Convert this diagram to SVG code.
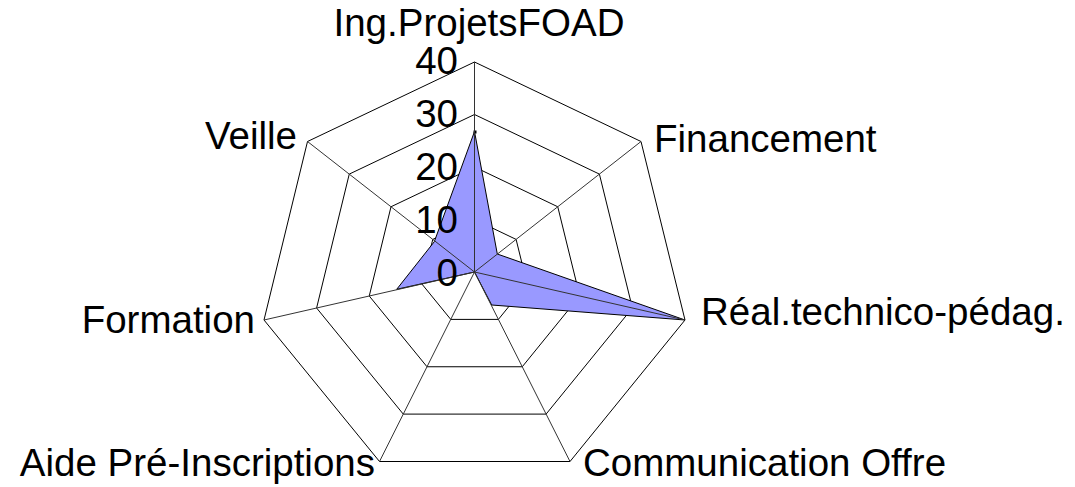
<svg xmlns="http://www.w3.org/2000/svg" width="1075" height="487" viewBox="0 0 1075 487">
  <style>
    .ring { fill: none; stroke: #000; stroke-width: 1; }
    .spoke { stroke: #333; stroke-width: 1; fill: none; }
    .series { fill: #9999ff; stroke: #000; stroke-width: 1; stroke-linejoin: miter; }
    text { font-family: "Liberation Sans", Arial, sans-serif; font-size: 38.5px; fill: #000; }
    .tick { text-anchor: end; }
  </style>
  <rect width="1075" height="487" fill="#fff"/>
  <g id="grid">
    <polygon class="ring" points="474.5,219.5 516.1,239.4 527.1,284 498.4,319.4 450.75,319.4 421.9,284 432.75,239.4"/>
    <polygon class="ring" points="474.5,167 557.75,206.75 579.75,296 522.25,366.75 427,366.75 369.25,296 391,206.75"/>
    <polygon class="ring" points="474.5,114.5 599.4,174.1 632.4,308 546.1,414.1 403.25,414.1 316.6,308 349.25,174.1"/>
    <polygon class="ring" points="474.5,62 641,141.5 685,320 570,461.5 379.5,461.5 264,320 307.5,141.5"/>
  </g>
  <g id="series-data">
    <polygon class="series" points="474.5,131.5 497.3,254 685,320 491.7,305 474.5,272 396.7,289.3 434.3,241.7"/>
    <rect x="473.5" y="130.5" width="3" height="3" fill="#000"/>
  </g>
  <g id="connectors">
    <line class="spoke" x1="474.5" y1="272" x2="474.5" y2="62"/>
    <line class="spoke" x1="474.5" y1="272" x2="641" y2="141.5"/>
    <line class="spoke" x1="474.5" y1="272" x2="685" y2="320"/>
    <line class="spoke" x1="474.5" y1="272" x2="570" y2="461.5"/>
    <line class="spoke" x1="474.5" y1="272" x2="379.5" y2="461.5"/>
    <line class="spoke" x1="474.5" y1="272" x2="264" y2="320"/>
    <line class="spoke" x1="474.5" y1="272" x2="307.5" y2="141.5"/>
  </g>
  <g id="scale">
    <text class="tick" x="458" y="73.5">40</text>
    <text class="tick" x="458" y="126.5">30</text>
    <text class="tick" x="458" y="179.5">20</text>
    <text class="tick" x="458" y="232.5">10</text>
    <text class="tick" x="458" y="285.5">0</text>
  </g>
  <g id="node-ing"><text x="479" y="36" text-anchor="middle">Ing.ProjetsFOAD</text></g>
  <g id="node-financement"><text x="654" y="152">Financement</text></g>
  <g id="node-real"><text x="701" y="325">Réal.technico-pédag.</text></g>
  <g id="node-communication"><text x="583" y="476">Communication Offre</text></g>
  <g id="node-aide"><text x="375" y="476" text-anchor="end">Aide Pré-Inscriptions</text></g>
  <g id="node-formation"><text x="255" y="333" text-anchor="end">Formation</text></g>
  <g id="node-veille"><text x="297" y="149" text-anchor="end">Veille</text></g>
</svg>
